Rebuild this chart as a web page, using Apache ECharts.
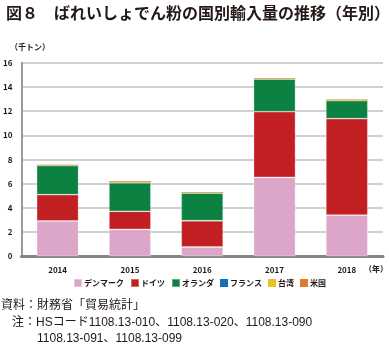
<!DOCTYPE html>
<html><head><meta charset="utf-8">
<script src="https://cdn.jsdelivr.net/npm/echarts@6/dist/echarts.min.js"></script>
<style>html,body{margin:0;padding:0;background:#fff}#c{width:389px;height:347px}</style>
</head><body><div id="c"></div>
<script>
const years = ['2014','2015','2016','2017','2018'];
const seriesNames = ['デンマーク','ドイツ','オランダ','フランス','台湾','米国'];
const denmark = [2.92, 2.23, 0.77, 6.53, 3.41];
const germany = [2.17, 1.49, 2.17, 5.42, 7.96];
const netherlands = [2.40, 2.36, 2.29, 2.70, 1.49];
const france = [0.01, 0.01, 0.01, 0.01, 0.01];
const taiwan = [0.03, 0.06, 0.04, 0.03, 0.04];
const usa = [0.03, 0.05, 0.03, 0.05, 0.04];
const colors = ['#dba6c8','#c11f22','#0b8142','#1670b9','#f0c020','#e07b2a'];
const yTicks = [0,2,4,6,8,10,12,14,16];
const allData = [denmark, germany, netherlands, france, taiwan, usa];

const chart = echarts.init(document.getElementById('c'), null, {renderer:'canvas'});
const FONT = '"Noto Sans CJK JP", sans-serif';
const NOTE_FONT = '"Liberation Sans", "Noto Sans CJK JP", sans-serif';
chart.setOption({
  animation:false,
  textStyle:{fontFamily:FONT},
  title:{text:'図８　ばれいしょでん粉の国別輸入量の推移（年別）',left:1,top:0,
    textStyle:{fontFamily:FONT,fontSize:16,fontWeight:'bold',color:'#231815'}},
  grid:{left:21,right:6,top:62.7,bottom:90.7},
  legend:{data:seriesNames,top:278,left:73,itemWidth:8,itemHeight:8,itemGap:6,padding:0,
    icon:'rect',textStyle:{fontSize:8,fontWeight:'bold',color:'#231815',padding:[0,0,0,-3]}},
  xAxis:{type:'category',data:years,
    axisLine:{lineStyle:{color:'#858585',width:3}},
    axisTick:{show:false},
    axisLabel:{fontSize:8,fontWeight:'bold',color:'#231815',margin:10}},
  yAxis:{type:'value',min:yTicks[0],max:yTicks[yTicks.length-1],interval:2,
    axisLine:{show:true,lineStyle:{color:'#9a9a9a',width:2}},
    axisTick:{show:false},
    splitLine:{lineStyle:{color:'#c0c0c0',width:1.5}},
    axisLabel:{fontSize:8,fontWeight:'bold',color:'#231815',margin:9}},
  series:seriesNames.map((n,i)=>({name:n,type:'bar',stack:'total',data:allData[i],
    barWidth:'58%',itemStyle:{color:colors[i],borderColor:'rgba(255,255,255,0.35)',borderWidth:i<3?0.8:0}})),
  graphic:[
    {type:'text',left:10,top:43,style:{text:'（千トン）',fontSize:8,fontWeight:'bold',fill:'#231815',fontFamily:FONT}},
    {type:'text',left:364,top:265,style:{text:'（年）',fontSize:8,fontWeight:'bold',fill:'#231815',fontFamily:FONT}},
    {type:'text',x:1,y:306,style:{text:'資料：財務省「貿易統計」',fontSize:12,fill:'#231815',fontFamily:NOTE_FONT,verticalAlign:'middle'}},
    {type:'text',x:12,y:322.7,style:{text:'注：HSコード1108.13-010、1108.13-020、1108.13-090',fontSize:12,fill:'#231815',fontFamily:NOTE_FONT,verticalAlign:'middle'}},
    {type:'text',x:37,y:339,style:{text:'1108.13-091、1108.13-099',fontSize:12,fill:'#231815',fontFamily:NOTE_FONT,verticalAlign:'middle'}}
  ]
});
</script></body></html>
